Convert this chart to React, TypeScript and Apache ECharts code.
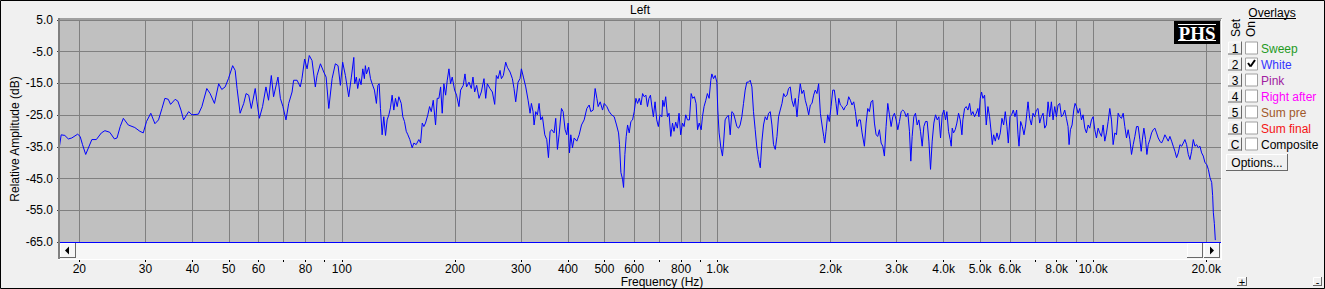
import React, { useEffect, useRef } from "react";
import * as echarts from "echarts";

const LOW_FREQ = [17.7, 17.9, 18.3, 18.7, 19.1, 19.8, 20.1, 20.4, 20.8, 21.6, 22.2, 22.9, 23.4, 24.1, 24.8, 25.2, 25.7, 26.2, 27.0, 28.1, 29.0, 29.6, 30.2, 31.0, 31.8, 32.5, 33.2, 33.8, 34.5, 35.0, 36.0, 36.6, 37.3, 37.9, 39.1, 39.9, 41.5, 42.4, 43.7, 44.6, 45.8, 47.0, 47.9, 48.9, 49.9, 51.2, 52.0, 52.6, 53.6, 54.8, 55.6, 56.5, 57.4, 58.8, 59.4, 60.3, 61.5, 62.8, 63.8, 64.9, 65.8, 67.6, 68.6, 69.7, 71.0, 72.2, 73.7, 74.4, 76.0, 77.5, 78.3, 79.6, 80.8, 81.9, 83.3, 85.0, 85.9, 87.7, 89.5, 90.8, 92.3, 94.2, 96.1, 97.7, 99.1, 100.5, 102.2, 104.3, 106.0, 107.6];
const LOW_DB = [-35.0, -31.2, -31.4, -32.5, -32.2, -31.0, -31.7, -34.3, -37.4, -32.7, -32.7, -30.6, -29.9, -30.4, -32.5, -32.2, -28.6, -26.0, -28.1, -28.9, -30.1, -30.6, -27.0, -24.4, -27.7, -26.5, -22.9, -19.7, -20.0, -21.6, -20.0, -20.6, -23.4, -26.5, -23.9, -24.9, -24.7, -22.3, -16.6, -18.2, -21.3, -15.1, -16.9, -16.1, -13.5, -9.4, -10.9, -16.6, -24.4, -21.3, -18.2, -18.7, -22.9, -16.6, -20.6, -26.0, -22.3, -16.1, -20.3, -12.5, -19.2, -13.0, -19.7, -22.3, -26.5, -21.3, -17.7, -14.0, -14.0, -16.1, -13.5, -7.3, -10.4, -6.2, -7.8, -16.1, -12.5, -8.8, -11.4, -13.0, -22.9, -13.5, -8.8, -9.4, -15.6, -8.3, -12.5, -19.2, -13.0, -6.8];

const LOWMID_FREQ = [108.2, 109.3, 110.2, 111.4, 112.5, 113.7, 114.8, 115.5, 116.3, 117.9, 119.2, 120.4, 122.1, 123.6, 124.7, 125.7, 126.7, 128.0, 129.3, 130.7, 132.0, 133.4, 134.7, 136.1, 137.5, 138.9, 140.4, 141.8, 143.9, 145.3, 146.8, 148.4, 149.9, 151.7, 153.9, 155.5, 157.7, 160.3, 162.0, 163.7, 165.3, 167.0, 169.4, 171.2, 173.0, 175.1, 177.6, 179.4, 181.3, 183.2, 185.0, 186.9, 188.9, 190.8, 192.8, 194.7, 196.7, 199.6, 202.0, 205.0, 207.1, 210.5, 212.7, 214.8, 218.0, 221.1, 223.4, 225.7, 228.5, 231.8, 235.1, 239.0, 241.5, 243.9, 247.9, 251.6, 255.2, 257.8, 260.5, 263.7, 265.9, 269.1, 273.0, 275.8, 280.4, 284.4, 287.3, 290.3, 294.5, 298.1, 300.6, 304.3, 308.7, 313.2, 317.0, 319.6, 322.9, 324.9, 328.2, 331.6, 335.0, 338.4, 342.0, 346.9, 351.1, 354.8, 358.4, 362.1, 367.3, 371.0, 374.9, 378.7, 384.3, 388.2, 392.9, 397.0, 400.3, 403.6, 406.9, 411.1, 415.3, 422.2, 428.3, 434.5, 441.6, 448.9, 455.4, 460.1, 466.7, 472.4, 477.4, 481.2, 487.3, 494.3, 499.3, 507.5, 514.9, 522.4, 530.9, 538.6, 545.3, 548.6, 553.2, 558.8, 562.3, 566.8, 571.5, 576.3, 582.1, 588.1, 594.2, 600.2, 606.5, 612.7, 619.1, 625.4, 631.9, 638.3, 644.8];
const LOWMID_DB = [-15.1, -13.0, -16.6, -13.5, -15.4, -10.4, -13.5, -9.4, -12.0, -9.9, -13.5, -15.1, -17.1, -21.3, -15.6, -15.1, -22.9, -31.2, -25.5, -31.4, -26.5, -24.9, -22.7, -18.7, -23.4, -19.7, -22.3, -19.2, -21.3, -25.5, -27.0, -30.1, -31.2, -32.7, -35.3, -33.8, -34.3, -32.7, -33.8, -27.5, -28.6, -27.5, -24.9, -22.3, -23.9, -20.3, -28.1, -19.7, -19.7, -16.1, -24.4, -15.1, -18.7, -14.0, -10.4, -15.1, -13.0, -17.1, -18.7, -22.3, -17.1, -15.6, -12.0, -16.1, -14.6, -16.6, -13.0, -17.7, -15.6, -19.7, -17.7, -13.5, -19.7, -15.1, -16.6, -17.7, -21.6, -12.5, -13.5, -10.9, -13.5, -12.5, -8.3, -9.9, -11.4, -13.5, -16.6, -20.8, -14.6, -13.5, -10.4, -13.0, -16.1, -20.3, -24.4, -21.3, -23.9, -28.1, -23.9, -24.9, -21.3, -26.5, -25.5, -31.2, -32.7, -38.4, -30.1, -29.6, -30.6, -26.0, -35.8, -31.2, -22.9, -23.9, -29.6, -31.2, -27.5, -36.9, -31.2, -35.3, -32.2, -33.2, -31.2, -28.1, -26.5, -22.9, -21.8, -23.9, -23.4, -16.6, -19.7, -22.3, -20.8, -23.4, -21.3, -22.3, -23.9, -24.9, -25.5, -28.1, -30.6, -34.3, -43.1, -45.2, -47.8, -37.4, -31.7, -28.1, -30.6, -27.0, -26.5, -23.9, -19.7, -21.3, -19.7, -21.8, -18.2, -19.2, -18.7];

const MID_FREQ = [651, 657, 663, 668, 675, 682, 689, 696, 703, 711, 715, 721, 728, 736, 743, 751, 759, 766, 774, 782, 790, 798, 807, 815, 823, 832, 842, 851, 859, 868, 877, 885, 894, 905, 912, 921, 931, 940, 950, 960, 966, 976, 986, 996, 1002, 1010, 1021, 1031, 1038, 1048, 1059, 1070, 1081, 1092, 1103, 1115, 1126, 1138, 1149, 1161, 1173, 1185, 1197, 1210, 1222, 1235, 1247, 1260, 1273, 1286, 1300, 1313, 1326, 1340, 1354, 1368, 1382, 1396, 1410, 1425, 1440, 1454, 1469, 1485, 1500, 1515, 1531, 1546, 1562, 1578, 1595, 1611, 1628, 1644, 1661, 1678, 1696, 1713, 1731, 1749, 1767, 1785, 1803, 1821, 1840, 1859, 1879, 1898, 1918, 1929, 1945, 1965, 1985, 2006, 2027, 2047, 2068, 2085, 2103, 2124, 2146, 2168, 2190, 2213, 2235, 2258, 2281, 2305, 2329, 2353, 2377, 2401, 2426, 2461, 2487, 2512, 2537, 2564, 2590, 2617, 2644, 2671, 2698, 2727, 2754, 2782, 2811, 2840, 2869, 2899, 2929, 2959, 2990, 3020, 3051, 3083, 3114, 3146, 3178, 3212, 3244, 3271, 3298, 3332, 3366, 3401, 3436, 3471, 3507, 3543, 3580, 3616, 3654, 3691, 3729, 3767, 3806, 3846, 3885, 3925, 3965, 4006, 4047];
const MID_DB = [-22.3, -19.7, -18.7, -21.8, -25.5, -20.8, -26.5, -28.6, -24.9, -25.5, -20.3, -22.3, -19.2, -25.5, -24.4, -31.7, -27.5, -30.1, -27.2, -29.1, -24.4, -31.2, -27.5, -28.6, -24.9, -26.5, -26.5, -18.2, -19.7, -19.2, -21.3, -29.6, -27.5, -29.6, -25.5, -22.3, -20.3, -18.2, -19.7, -14.0, -12.0, -13.5, -12.5, -14.6, -23.4, -30.6, -35.3, -37.9, -33.8, -26.5, -25.5, -25.1, -31.2, -23.9, -24.4, -26.5, -28.6, -29.1, -28.1, -25.5, -21.3, -17.1, -14.6, -14.6, -14.0, -16.1, -23.9, -29.6, -35.3, -39.0, -41.6, -33.2, -28.1, -25.5, -26.5, -24.4, -23.9, -28.1, -34.3, -35.8, -31.7, -25.5, -23.4, -21.3, -18.2, -19.2, -18.7, -16.6, -16.1, -20.3, -22.3, -19.7, -25.5, -19.7, -15.1, -18.2, -17.1, -20.3, -22.3, -24.9, -21.8, -21.3, -18.7, -17.1, -18.2, -15.1, -24.4, -28.1, -31.7, -33.8, -30.1, -24.9, -27.0, -22.3, -17.1, -17.1, -21.3, -24.9, -19.7, -21.8, -22.3, -23.4, -22.3, -21.8, -19.2, -20.3, -21.8, -20.8, -23.9, -28.6, -26.5, -26.5, -30.6, -34.8, -27.5, -22.9, -23.9, -20.8, -20.3, -27.5, -31.2, -31.7, -29.6, -33.8, -34.8, -37.9, -28.6, -21.3, -24.9, -28.6, -25.5, -24.4, -26.5, -29.6, -27.0, -23.9, -23.4, -23.9, -25.5, -24.4, -30.1, -39.5, -31.7, -25.5, -24.4, -28.1, -26.5, -30.1, -34.8, -28.6, -27.0, -27.0, -33.2, -42.1, -33.2, -27.5, -24.9, -26.5, -25.5, -32.2, -24.9, -23.4, -26.5];

const HIGH_FREQ = [4080, 4122, 4165, 4190, 4216, 4250, 4294, 4338, 4383, 4428, 4474, 4501, 4548, 4594, 4642, 4690, 4738, 4786, 4835, 4885, 4935, 4966, 5007, 5047, 5089, 5141, 5194, 5248, 5301, 5356, 5390, 5434, 5490, 5546, 5603, 5661, 5719, 5778, 5837, 5897, 5945, 6007, 6068, 6131, 6194, 6258, 6310, 6349, 6413, 6480, 6546, 6613, 6668, 6710, 6778, 6849, 6918, 6989, 7061, 7133, 7208, 7282, 7357, 7432, 7509, 7586, 7664, 7743, 7823, 7903, 7985, 8067, 8150, 8234, 8318, 8403, 8490, 8576, 8630, 8701, 8790, 8880, 8953, 9028, 9120, 9214, 9310, 9404, 9502, 9598, 9699, 9797, 9899, 10000, 10102, 10207, 10311, 10418, 10525, 10633, 10742, 10853, 10965, 11076, 11191, 11306, 11423, 11540, 11659, 11778, 11901, 12023, 12145, 12272, 12397, 12526, 12654, 12786, 12916, 13050, 13183, 13317, 13428, 13540, 13650, 13792, 13904, 14019, 14162, 14310, 14454, 14601, 14753, 14904, 15058, 15211, 15370, 15527, 15688, 15849, 16011, 16178, 16343, 16513, 16681, 16855, 17027, 17204, 17378, 17555, 17738, 17919, 18106, 18290, 18479, 18667, 18862, 19055, 19249, 19448, 19647, 19853, 20055, 20265, 20471, 20684, 20807, 20893, 21025, 21151];
const HIGH_DB = [-23.9, -30.1, -32.7, -34.8, -29.1, -30.6, -29.6, -27.5, -24.4, -26.5, -31.2, -26.5, -22.9, -22.3, -23.4, -21.3, -24.9, -23.9, -25.5, -24.4, -22.9, -25.5, -19.7, -17.7, -19.7, -18.7, -28.1, -22.3, -25.5, -30.6, -34.3, -31.2, -33.2, -30.6, -32.7, -30.6, -26.0, -28.1, -23.9, -28.6, -33.8, -25.5, -24.9, -23.4, -25.5, -23.4, -31.2, -34.8, -27.0, -28.6, -31.2, -28.1, -23.9, -20.8, -26.0, -28.1, -24.4, -25.5, -23.4, -22.9, -27.5, -25.5, -24.4, -29.1, -28.1, -20.8, -25.5, -20.8, -26.5, -22.3, -25.5, -21.8, -21.3, -25.5, -24.9, -23.4, -26.0, -28.6, -34.3, -29.6, -28.1, -23.4, -21.3, -22.3, -24.4, -22.9, -26.5, -24.9, -29.1, -30.6, -28.1, -29.1, -26.5, -25.5, -29.6, -32.2, -29.1, -30.6, -31.7, -28.1, -33.2, -30.6, -27.0, -22.9, -26.5, -34.3, -30.6, -31.2, -24.4, -25.5, -26.0, -24.4, -28.6, -32.2, -29.6, -32.7, -37.4, -34.3, -31.7, -28.6, -28.6, -32.7, -36.4, -32.2, -29.1, -32.7, -37.4, -34.3, -32.7, -30.6, -29.6, -29.1, -30.6, -32.2, -33.2, -33.8, -32.7, -31.2, -32.2, -33.2, -31.7, -33.2, -34.8, -36.4, -38.4, -36.9, -34.3, -34.8, -33.8, -32.7, -34.3, -37.4, -39.0, -36.4, -32.7, -34.8, -34.3, -35.3, -34.8, -36.9, -37.9, -40.0, -40.5, -42.1, -44.7, -46.2, -50.4, -55.6, -59.2, -64.4];

// ---- Axes ----
const F_MIN = 17.66;
const F_MAX = 21900;
const TICK_FREQS = [20, 30, 40, 50, 60, 70, 80, 90, 100, 200, 300, 400, 500, 600, 700, 800, 900, 1000, 2000, 3000, 4000, 5000, 6000, 7000, 8000, 9000, 10000, 20000];
const LABEL_FREQS = [20, 30, 40, 50, 60, 80, 100, 200, 300, 400, 500, 600, 800, 1000, 2000, 3000, 4000, 5000, 6000, 8000, 10000, 20000];
const Y_MIN = -65;
const Y_MAX = 5;
const Y_STEP = 10;
const FLOOR_DB = -65;

// ---- Overlay panel ----
const OVERLAY_SETS = ["1", "2", "3", "4", "5", "6", "C"];
const OVERLAY_NAMES = ["Sweep", "White", "Pink", "Right after", "Sum pre", "Sum final", "Composite"];
const OVERLAY_COLORS = ["#1f9a1f", "#3535ff", "#a020a0", "#ff00ff", "#a0582a", "#f41414", "#000000"];
const OVERLAY_ON = [false, true, false, false, false, false, false];

const FONT = 'Arial, "Liberation Sans", sans-serif';

function fmtFreq(f: number): string {
  const r = Math.round(f);
  if (r >= 1000) return (r / 1000).toFixed(1) + "k";
  return String(r);
}

function line(x1: number, y1: number, x2: number, y2: number, stroke: string, lineWidth = 1): any {
  return { type: "line", z: 10, shape: { x1, y1, x2, y2 }, style: { stroke, lineWidth } };
}

function raised(x: number, y: number, w: number, h: number, label?: string, fontSize = 12): any {
  const children: any[] = [
    { type: "rect", shape: { x, y, width: w, height: h }, style: { fill: "#F0F0F0" } },
    line(x + 0.5, y + 0.5, x + w - 0.5, y + 0.5, "#FFFFFF"),
    line(x + 0.5, y + 0.5, x + 0.5, y + h - 0.5, "#FFFFFF"),
    line(x, y + h - 0.5, x + w, y + h - 0.5, "#696969"),
    line(x + w - 0.5, y, x + w - 0.5, y + h, "#696969"),
  ];
  if (label) {
    children.push({
      type: "text",
      x: x + w / 2,
      y: y + h / 2 + 0.5,
      style: { text: label, fontSize, fontFamily: FONT, fill: "#000", align: "center", verticalAlign: "middle" },
    });
  }
  return { type: "group", z: 10, children };
}

function buildGraphics(): any[] {
  const g: any[] = [];
  // Titles
  g.push({ type: "text", z: 10, x: 640, y: 9.5, style: { text: "Left", fontSize: 12, fontFamily: FONT, fill: "#000", align: "center", verticalAlign: "middle" } });
  g.push({ type: "text", z: 10, x: 662, y: 281.5, style: { text: "Frequency (Hz)", fontSize: 12, fontFamily: FONT, fill: "#000", align: "center", verticalAlign: "middle" } });
  g.push({ type: "text", z: 10, x: 15, y: 139, rotation: Math.PI / 2, style: { text: "Relative Amplitude (dB)", fontSize: 12, fontFamily: FONT, fill: "#000", align: "center", verticalAlign: "middle" } });

  // Scroll strip under plot
  g.push({ type: "rect", z: 9, shape: { x: 60, y: 243, width: 1161, height: 16 }, style: { fill: "#F6F6F6" } });
  g.push(raised(60, 243, 16, 15));
  g.push({ type: "polygon", z: 11, shape: { points: [[65, 250.5], [69, 246.5], [69, 254.5]] }, style: { fill: "#000" } });
  g.push(raised(1187, 243, 16, 15));
  g.push(raised(1204, 243, 16, 15));
  g.push({ type: "polygon", z: 11, shape: { points: [[1210, 246.5], [1214, 250.5], [1210, 254.5]] }, style: { fill: "#000" } });

  // Sunken frame
  g.push(line(58, 19, 1222, 19, "#A0A0A0", 2));
  g.push(line(59, 18, 59, 260, "#808080", 2));
  g.push(line(1221.5, 19, 1221.5, 260, "#FFFFFF", 1));
  g.push(line(58, 259.5, 1222, 259.5, "#FFFFFF", 1));

  // PHS logo
  g.push({ type: "rect", z: 10, shape: { x: 1174, y: 21, width: 46, height: 23 }, style: { fill: "#000" } });
  g.push(line(1178, 24.5, 1216, 24.5, "#FFFFFF", 1));
  g.push(line(1178, 40.5, 1216, 40.5, "#FFFFFF", 1));
  g.push({ type: "text", z: 11, x: 1197, y: 33, style: { text: "PHS", fontSize: 19, fontWeight: "bold", fontFamily: '"Liberation Serif", "Times New Roman", serif', fill: "#FFF", align: "center", verticalAlign: "middle" } });

  // Overlay panel
  g.push({ type: "text", z: 10, x: 1272, y: 12.5, style: { text: "Overlays", fontSize: 12, fontFamily: FONT, fill: "#000", align: "center", verticalAlign: "middle" } });
  g.push(line(1249, 18.5, 1296, 18.5, "#000", 1));
  g.push({ type: "text", z: 10, x: 1236, y: 28, rotation: Math.PI / 2, style: { text: "Set", fontSize: 12, fontFamily: FONT, fill: "#000", align: "center", verticalAlign: "middle" } });
  g.push({ type: "text", z: 10, x: 1251, y: 29, rotation: Math.PI / 2, style: { text: "On", fontSize: 12, fontFamily: FONT, fill: "#000", align: "center", verticalAlign: "middle" } });

  OVERLAY_SETS.forEach((s, i) => {
    const cy = 48 + 16 * i;
    g.push(raised(1228, cy - 6.5, 14, 13, s));
    g.push({ type: "rect", z: 10, shape: { x: 1245.5, y: cy - 6, width: 12, height: 12 }, style: { fill: "#FFFFFF", stroke: "#A0A0A0", lineWidth: 1 } });
    if (OVERLAY_ON[i]) {
      g.push(line(1248, cy - 1, 1250.5, cy + 2.5, "#000", 2));
      g.push(line(1250.5, cy + 2.5, 1255, cy - 4, "#000", 2));
    }
    g.push({ type: "text", z: 10, x: 1261, y: cy + 0.5, style: { text: OVERLAY_NAMES[i], fontSize: 12, fontFamily: FONT, fill: OVERLAY_COLORS[i], align: "left", verticalAlign: "middle" } });
  });

  g.push(raised(1226, 154, 62, 17, "Options..."));
  g.push(raised(1237, 277, 10, 9, "+", 11));
  g.push(raised(1313, 277, 9, 9, "-", 11));

  // Outer border
  g.push({ type: "rect", z: 20, shape: { x: 0.5, y: 0.5, width: 1324, height: 288 }, style: { fill: "none", stroke: "#000", lineWidth: 1 } });
  return g;
}

export default function App() {
  const ref = useRef<HTMLDivElement>(null);

  useEffect(() => {
    if (!ref.current) return;
    const chart = echarts.init(ref.current, undefined, { renderer: "svg" });

    const freqs = [...LOW_FREQ, ...LOWMID_FREQ, ...MID_FREQ, ...HIGH_FREQ];
    const dbs = [...LOW_DB, ...LOWMID_DB, ...MID_DB, ...HIGH_DB];
    const data = freqs.map((f, i) => [f, dbs[i]]);

    chart.setOption({
      animation: false,
      backgroundColor: "#F0F0F0",
      grid: { left: 59, right: 104, top: 20, bottom: 47, show: true, backgroundColor: "#C0C0C0", borderWidth: 0 },
      xAxis: [
        {
          type: "log",
          logBase: 10,
          min: F_MIN,
          max: F_MAX,
          axisLine: { show: false },
          axisTick: { show: false },
          axisLabel: { show: false },
          splitLine: { show: false },
        },
        {
          type: "value",
          position: "bottom",
          offset: 16,
          min: Math.log10(F_MIN),
          max: Math.log10(F_MAX),
          axisLine: { show: false },
          axisTick: { show: true, length: 4, lineStyle: { color: "#000" }, customValues: TICK_FREQS.map((f) => Math.log10(f)) },
          axisLabel: {
            customValues: LABEL_FREQS.map((f) => Math.log10(f)),
            formatter: (v: number) => fmtFreq(Math.pow(10, v)),
            margin: 5,
            fontSize: 12,
            color: "#000",
            fontFamily: FONT,
          },
          splitLine: { show: true, lineStyle: { color: "#808080", width: 1 } },
        },
      ],
      yAxis: {
        type: "value",
        min: Y_MIN,
        max: Y_MAX,
        interval: Y_STEP,
        axisLine: { show: false },
        axisTick: { show: true, length: 2, lineStyle: { color: "#404040" } },
        axisLabel: { formatter: (v: number) => v.toFixed(1), margin: 6, fontSize: 12, color: "#000", fontFamily: FONT },
        splitLine: { show: true, lineStyle: { color: "#808080", width: 1 } },
      },
      series: [
        {
          type: "line",
          xAxisIndex: 0,
          yAxisIndex: 0,
          data,
          showSymbol: false,
          symbol: "none",
          lineStyle: { color: "#0000FF", width: 1 },
          itemStyle: { color: "#0000FF" },
          markLine: {
            silent: true,
            symbol: ["none", "none"],
            label: { show: false },
            lineStyle: { color: "#0000FF", width: 1, type: "solid" },
            data: [{ yAxis: FLOOR_DB }],
          },
        },
      ],
      graphic: buildGraphics(),
    });

    return () => chart.dispose();
  }, []);

  return <div ref={ref} style={{ position: "absolute", left: 0, top: 0, width: 1325, height: 289 }} />;
}
